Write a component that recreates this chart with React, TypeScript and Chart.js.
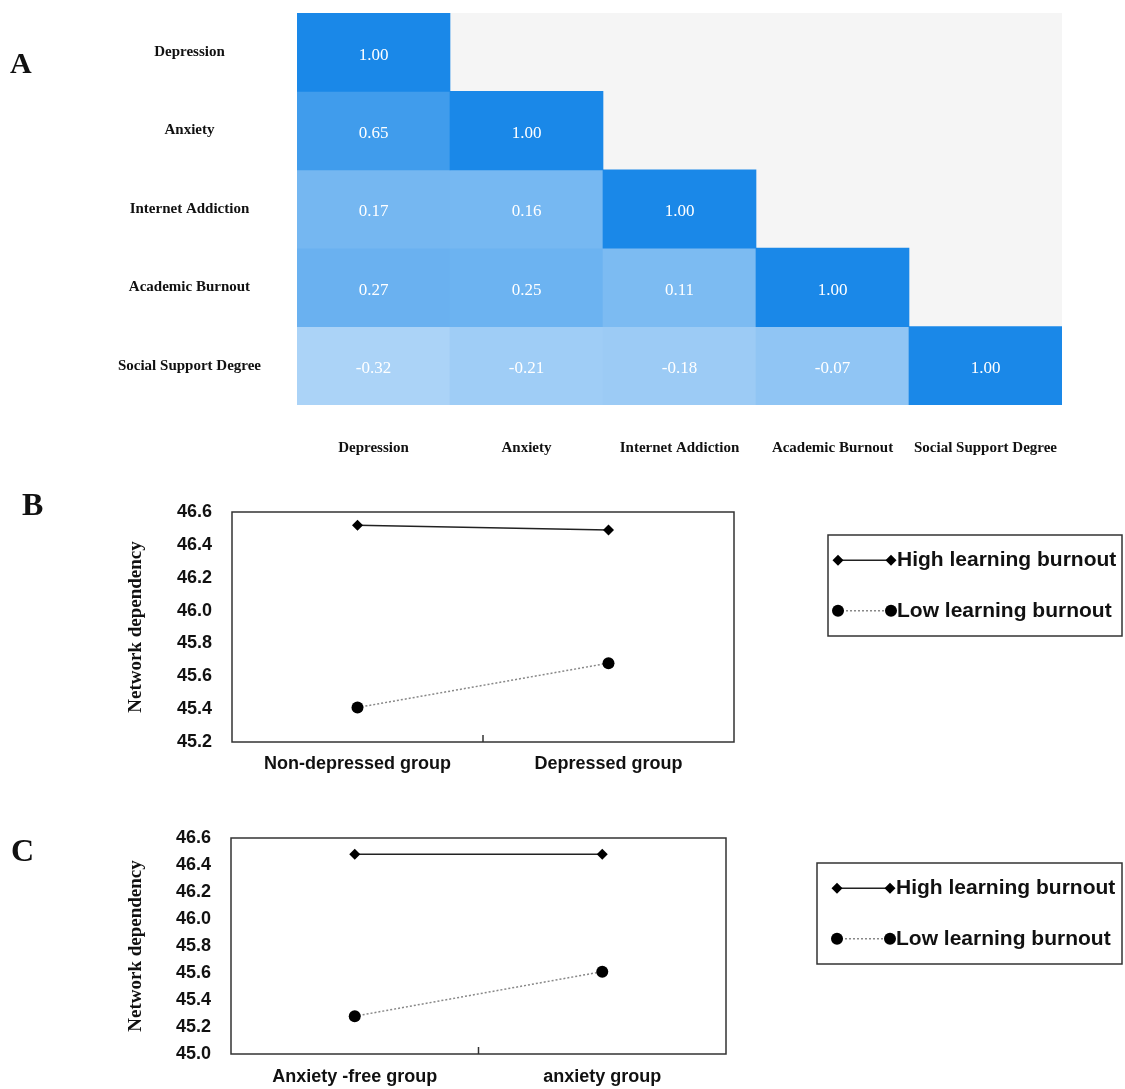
import React, { useEffect, useRef } from "react";
import { Chart, registerables } from "chart.js";

Chart.register(...registerables);

// ---------- Panel A data ----------
const variables = [
  "Depression",
  "Anxiety",
  "Internet Addiction",
  "Academic Burnout",
  "Social Support Degree",
];
const corrDepression = [1.0];
const corrAnxiety = [0.65, 1.0];
const corrInternet = [0.17, 0.16, 1.0];
const corrBurnout = [0.27, 0.25, 0.11, 1.0];
const corrSocial = [-0.32, -0.21, -0.18, -0.07, 1.0];
const corrRows = [corrDepression, corrAnxiety, corrInternet, corrBurnout, corrSocial];

// ---------- Panel B data ----------
const groupsB = ["Non-depressed group", "Depressed group"];
const highB = [46.52, 46.49];
const lowB = [45.41, 45.68];
const yRangeB = [45.2, 46.6];

// ---------- Panel C data ----------
const groupsC = ["Anxiety -free group", "anxiety group"];
const highC = [46.48, 46.48];
const lowC = [45.28, 45.61];
const yRangeC = [45.0, 46.6];

const seriesNames = ["High learning burnout", "Low learning burnout"];
const yTitle = "Network dependency";
const yStep = 0.2;

// ---------- helpers ----------
const lightBlue = [171, 211, 247];
const darkBlue = [26, 136, 232];
const allCorr = corrRows.flat();
const corrLo = Math.min(...allCorr);
const corrHi = Math.max(...allCorr);
function heatColor(v: number) {
  const t = (v - corrLo) / (corrHi - corrLo);
  const c = lightBlue.map((l, i) => Math.round(l + (darkBlue[i] - l) * t));
  return `rgb(${c[0]},${c[1]},${c[2]})`;
}

const SERIF = '"Liberation Serif", "Times New Roman", serif';
const SANS = '"Liberation Sans", Arial, sans-serif';

const heatBgPlugin = {
  id: "heatBg",
  beforeDatasetsDraw(chart: any) {
    const { ctx, chartArea: a } = chart;
    ctx.save();
    ctx.fillStyle = "#f5f5f5";
    ctx.fillRect(a.left, a.top, a.right - a.left, a.bottom - a.top);
    ctx.restore();
  },
};

const cellTextPlugin = {
  id: "cellText",
  afterDatasetsDraw(chart: any) {
    const { ctx } = chart;
    ctx.save();
    ctx.font = `17px ${SERIF}`;
    ctx.fillStyle = "#ffffff";
    ctx.textAlign = "center";
    ctx.textBaseline = "middle";
    chart.data.datasets.forEach((ds: any, di: number) => {
      const meta = chart.getDatasetMeta(di);
      meta.data.forEach((el: any, i: number) => {
        const val = ds.corr[i];
        if (val === undefined) return;
        const p = el.getProps(["x", "y", "base"], true);
        ctx.fillText(val.toFixed(2), p.x, (p.y + p.base) / 2 + 3);
      });
    });
    ctx.restore();
  },
};

function heatmapConfig(): any {
  return {
    type: "bar",
    data: {
      labels: variables,
      datasets: corrRows.map((row, r) => ({
        label: variables[r],
        corr: row,
        data: variables.map((_, c) => (c < row.length ? [r, r + 1] : null)),
        backgroundColor: variables.map((_, c) =>
          c < row.length ? heatColor(row[c]) : "rgba(0,0,0,0)"
        ),
        borderWidth: 0,
        grouped: false,
        barPercentage: 1,
        categoryPercentage: 1,
      })),
    },
    options: {
      responsive: false,
      animation: false,
      layout: { padding: { left: 0, right: 63, top: 13, bottom: 0 } },
      plugins: { legend: { display: false }, tooltip: { enabled: false } },
      scales: {
        x: {
          type: "category",
          offset: true,
          grid: { display: false, drawTicks: false },
          border: { display: false },
          ticks: {
            autoSkip: false,
            maxRotation: 0,
            minRotation: 0,
            padding: 34,
            color: "#111",
            font: { family: SERIF, size: 15, weight: "bold" },
          },
          afterFit: (s: any) => {
            s.height = 65;
            s.paddingLeft = 0;
            s.paddingRight = 0;
          },
        },
        y: {
          type: "linear",
          min: 0,
          max: variables.length,
          reverse: true,
          grid: { display: false, drawTicks: false },
          border: { display: false },
          afterBuildTicks: (s: any) => {
            s.ticks = variables.map((_, i) => ({ value: i + 0.5 }));
          },
          ticks: {
            crossAlign: "center",
            padding: 36,
            color: "#111",
            font: { family: SERIF, size: 15, weight: "bold" },
            callback: (v: any) => variables[Math.floor(Number(v))],
          },
          afterFit: (s: any) => {
            s.width = 297;
            s.paddingTop = 0;
            s.paddingBottom = 0;
          },
        },
      },
    },
    plugins: [heatBgPlugin, cellTextPlugin],
  };
}

// ---------- line chart helpers ----------
function drawMarker(ctx: CanvasRenderingContext2D, style: string, x: number, y: number, r: number, color: string) {
  ctx.save();
  ctx.fillStyle = color;
  ctx.beginPath();
  if (style === "rectRot") {
    ctx.moveTo(x, y - r);
    ctx.lineTo(x + r, y);
    ctx.lineTo(x, y + r);
    ctx.lineTo(x - r, y);
    ctx.closePath();
  } else {
    ctx.arc(x, y, r, 0, Math.PI * 2);
  }
  ctx.fill();
  ctx.restore();
}

const framePlugin = {
  id: "frame",
  beforeDatasetsDraw(chart: any) {
    const { ctx, chartArea: a } = chart;
    const xs = chart.scales.x;
    ctx.save();
    ctx.strokeStyle = "#333";
    ctx.lineWidth = 1.5;
    ctx.strokeRect(a.left, a.top, a.right - a.left, a.bottom - a.top);
    const mid = (xs.getPixelForValue(0) + xs.getPixelForValue(1)) / 2;
    ctx.beginPath();
    ctx.moveTo(mid, a.bottom);
    ctx.lineTo(mid, a.bottom - 7);
    ctx.stroke();
    ctx.restore();
  },
};

const boxLegendPlugin = {
  id: "boxLegend",
  afterDraw(chart: any, _args: any, opts: any) {
    if (!opts || !opts.box) return;
    const { ctx } = chart;
    const { left, top, width, height, symbolX } = opts.box;
    ctx.save();
    ctx.strokeStyle = "#333";
    ctx.lineWidth = 1.5;
    ctx.strokeRect(left, top, width, height);
    chart.data.datasets.forEach((ds: any, i: number) => {
      const y = top + height * (0.25 + 0.5 * i);
      ctx.beginPath();
      ctx.setLineDash(ds.borderDash || []);
      ctx.strokeStyle = ds.borderColor;
      ctx.lineWidth = ds.borderWidth;
      ctx.moveTo(symbolX, y);
      ctx.lineTo(symbolX + 53, y);
      ctx.stroke();
      ctx.setLineDash([]);
      drawMarker(ctx, ds.pointStyle, symbolX, y, ds.pointRadius, ds.pointBackgroundColor);
      drawMarker(ctx, ds.pointStyle, symbolX + 53, y, ds.pointRadius, ds.pointBackgroundColor);
      ctx.fillStyle = "#111";
      ctx.font = `bold 21px ${SANS}`;
      ctx.textAlign = "left";
      ctx.textBaseline = "middle";
      ctx.fillText(ds.label, symbolX + 59, y);
    });
    ctx.restore();
  },
};

function lineConfig(
  groups: string[],
  high: number[],
  low: number[],
  yRange: number[],
  pad: { top: number; right: number },
  yWidth: number,
  xHeight: number,
  xPad: number,
  box: any
): any {
  return {
    type: "line",
    data: {
      labels: groups,
      datasets: [
        {
          label: seriesNames[0],
          data: high,
          borderColor: "#222",
          borderWidth: 1.5,
          pointStyle: "rectRot",
          pointRadius: 5.5,
          pointBackgroundColor: "#000",
          pointBorderColor: "#000",
          pointBorderWidth: 0,
        },
        {
          label: seriesNames[1],
          data: low,
          borderColor: "#888",
          borderWidth: 1.5,
          borderDash: [2, 2],
          pointStyle: "circle",
          pointRadius: 6,
          pointBackgroundColor: "#000",
          pointBorderColor: "#000",
          pointBorderWidth: 0,
        },
      ],
    },
    options: {
      responsive: false,
      animation: false,
      layout: { padding: { left: 0, right: pad.right, top: pad.top, bottom: 0 } },
      plugins: {
        legend: { display: false },
        tooltip: { enabled: false },
        boxLegend: { box },
      },
      scales: {
        x: {
          type: "category",
          offset: true,
          grid: { display: false, drawTicks: false },
          border: { display: false },
          ticks: {
            autoSkip: false,
            maxRotation: 0,
            minRotation: 0,
            padding: xPad,
            color: "#111",
            font: { family: SANS, size: 18, weight: "bold" },
          },
          afterFit: (s: any) => {
            s.height = xHeight;
            s.paddingLeft = 0;
            s.paddingRight = 0;
          },
        },
        y: {
          type: "linear",
          min: yRange[0],
          max: yRange[1],
          grid: { display: false, drawTicks: false },
          border: { display: false },
          ticks: {
            stepSize: yStep,
            padding: 20,
            color: "#111",
            font: { family: SANS, size: 18, weight: "bold" },
            callback: (v: any) => Number(v).toFixed(1),
          },
          title: {
            display: true,
            text: yTitle,
            color: "#111",
            font: { family: SERIF, size: 19, weight: "bold" },
            padding: { top: 125, bottom: 0 },
          },
          afterFit: (s: any) => {
            s.width = yWidth;
            s.paddingTop = 0;
            s.paddingBottom = 0;
          },
        },
      },
    },
    plugins: [framePlugin, boxLegendPlugin],
  };
}

function ChartCanvas(props: { make: () => any; left: number; top: number; width: number; height: number }) {
  const ref = useRef<HTMLCanvasElement>(null);
  useEffect(() => {
    const chart = new Chart(ref.current as HTMLCanvasElement, props.make());
    return () => chart.destroy();
  }, []);
  return (
    <div style={{ position: "absolute", left: props.left, top: props.top, width: props.width, height: props.height }}>
      <canvas
        ref={ref}
        width={props.width}
        height={props.height}
        style={{ width: props.width, height: props.height, display: "block" }}
      />
    </div>
  );
}

function Letter(props: { text: string; left: number; top: number; size: number }) {
  return (
    <div
      style={{
        position: "absolute",
        left: props.left,
        top: props.top,
        fontFamily: SERIF,
        fontWeight: "bold",
        fontSize: props.size,
        lineHeight: 1,
        color: "#111",
      }}
    >
      {props.text}
    </div>
  );
}

export default function App() {
  return (
    <div
      style={{
        position: "absolute",
        left: 0,
        top: 0,
        width: 1125,
        height: 1089,
        background: "#fff",
        overflow: "hidden",
      }}
    >
      <ChartCanvas make={heatmapConfig} left={0} top={0} width={1125} height={470} />
      <ChartCanvas
        make={() =>
          lineConfig(groupsB, highB, lowB, yRangeB, { top: 32, right: 391 }, 232, 48, 11, {
            left: 828,
            top: 535 - 480,
            width: 294,
            height: 101,
            symbolX: 838,
          })
        }
        left={0}
        top={480}
        width={1125}
        height={310}
      />
      <ChartCanvas
        make={() =>
          lineConfig(groupsC, highC, lowC, yRangeC, { top: 38, right: 399 }, 231, 35, 12, {
            left: 817,
            top: 863 - 800,
            width: 305,
            height: 101,
            symbolX: 837,
          })
        }
        left={0}
        top={800}
        width={1125}
        height={289}
      />
      <Letter text="A" left={10} top={48} size={30} />
      <Letter text="B" left={22} top={488} size={32} />
      <Letter text="C" left={11} top={834} size={32} />
    </div>
  );
}
